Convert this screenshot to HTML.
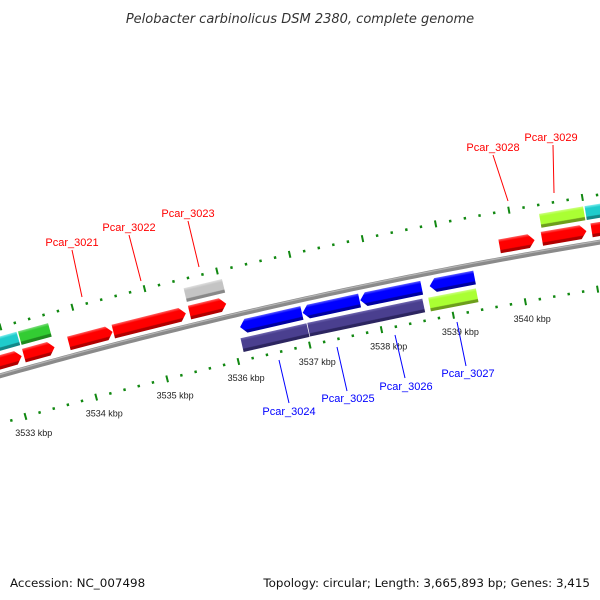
<!DOCTYPE html>
<html><head><meta charset="utf-8"><style>
html,body{margin:0;padding:0;background:#fff;}
svg{display:block;font-family:"Liberation Sans",sans-serif;}
</style></head><body>
<svg id="map" width="600" height="600" viewBox="0 0 600 600">
<defs id="defs"></defs>
<text x="300" y="23" text-anchor="middle" font-size="13" font-style="italic" fill="#333" style="font-family:'DejaVu Sans',sans-serif">Pelobacter carbinolicus DSM 2380, complete genome</text>
<g id="backbone-g"></g>
<g id="ticks-g"></g>
<g id="genes-g"></g>
<g id="labels-g"></g>
<text x="10" y="587" font-size="11.9" fill="#111" style="font-family:'DejaVu Sans',sans-serif">Accession: NC_007498</text>
<text x="590" y="587" font-size="11.9" fill="#111" text-anchor="end" style="font-family:'DejaVu Sans',sans-serif">Topology: circular; Length: 3,665,893 bp; Genes: 3,415</text>
</svg>
<script>
// ---- data ----
const geneStart = [3532.5,3533.20,3533.83,3534.45,3535.51,3539.79,3540.37,3541.05, 3532.5,3533.21,3535.51,3540.39,3541.01, 3536.13,3537.00,3537.80,3538.76, 3536.10,3537.03,3538.71];
const geneEnd   = [3533.17,3533.63,3534.44,3535.46,3536.02,3540.27,3540.98,3541.7, 3533.19,3533.63,3536.04,3540.99,3541.7, 3536.99,3537.79,3538.65,3539.38, 3537.02,3538.63,3539.37];
const geneRow   = [-1,-1,-1,-1,-1,-1,-1,-1, -2,-2,-2,-2,-2, 1,1,1,1, 2,2,2];
const geneColor = ["red","red","red","red","red","red","red","red","cyan","green","gray","lime","cyan","blue","blue","blue","blue","purple","purple","lime"];
const geneDir   = [1,1,1,1,1,1,1,1, 0,0,0,0,0, -1,-1,-1,-1, 0,0,0];
const tickLabels = [3533,3534,3535,3536,3537,3538,3539,3540];
const labelNames = ["Pcar_3021","Pcar_3022","Pcar_3023","Pcar_3028","Pcar_3029","Pcar_3024","Pcar_3025","Pcar_3026","Pcar_3027"];
const labelColor = ["#f00","#f00","#f00","#f00","#f00","#00f","#00f","#00f","#00f"];
const labelTextXY = [[72,246],[129,231],[188,217],[493,151],[551,141],[289,415],[348,402],[406,390],[468,377]];
const labelLine = [[72,250,82,297],[129,235,141,281],[188,221,199,267],[493,155,508,201],[553,145,554,193],[279,360,289,403],[337,347,347,391],[395,335,405,378],[457,322,466,366]];

// ---- geometry ----
const CX=1494, CY=5669, R=5500, KB0=3537, A0=-102.54*Math.PI/180, DA=0.01344;
function ang(kb){return A0+(kb-KB0)*DA;}
function pt(kb,v){const a=ang(kb),r=R-v;return [CX+r*Math.cos(a),CY+r*Math.sin(a)];}
const NS='http://www.w3.org/2000/svg';
function mk(tag,attrs,parent){const e=document.createElementNS(NS,tag);for(const k in attrs)e.setAttribute(k,attrs[k]);parent.appendChild(e);return e;}

const palette={red:["#ff6060","#ff0000","#b00000"],blue:["#5a5aff","#0000ff","#0000a0"],purple:["#6f66b0","#4a3f8f","#2c2560"],lime:["#ccff80","#aaff33","#6d9e1c"],cyan:["#80eeee","#1fcccc","#128888"],green:["#80dd80","#33cc33","#1f8a1f"],gray:["#e0e0e0","#c4c4c4","#888888"]};
const defs=document.getElementById('defs');
for(const c in palette){
  const g=mk('linearGradient',{id:'g-'+c,x1:0,y1:0,x2:0,y2:1},defs);
  const p=palette[c];
  [[0,p[0]],[0.2,p[1]],[0.74,p[1]],[0.8,p[2]],[1,p[2]]].forEach(s=>mk('stop',{offset:s[0],'stop-color':s[1]},g));
}

// backbone
const bb=document.getElementById('backbone-g');
let d1='',d2='';
for(let kb=3532.3;kb<=3541.8;kb+=0.1){const p=pt(kb,0),q=pt(kb,-1.3);d1+=(d1?'L':'M')+p[0].toFixed(2)+' '+p[1].toFixed(2);d2+=(d2?'L':'M')+q[0].toFixed(2)+' '+q[1].toFixed(2);}
const bl=mk('path',{d:d1,stroke:'#8a8a8a','stroke-width':5,fill:'none'},bb);


const bh=mk('path',{d:d2,stroke:'#b4b4b4','stroke-width':1.2,fill:'none'},bb);



// ticks (minor every 0.2 kb, major every 1 kb)
const tg=document.getElementById('ticks-g');
const tracks=[46,-47];
tracks.forEach(v=>{
  for(let i=17662;i<=17709;i++){
    const kb=i/5;
    const major=i%5===0;
    const a=pt(kb,v-(major?3.5:1.3)),b=pt(kb,v+(major?3.5:1.3));
    const l=mk('line',{x1:a[0].toFixed(2),y1:a[1].toFixed(2),x2:b[0].toFixed(2),y2:b[1].toFixed(2),stroke:'#118811','stroke-width':major?2:2.4},tg);
    
    
  }
});
tickLabels.forEach(kb=>{
  const p=pt(kb+0.05,64);
  const t=mk('text',{x:p[0].toFixed(1),y:(p[1]+3).toFixed(1),'font-size':9,fill:'#222','text-anchor':'middle'},tg);
  t.textContent=kb+' kbp';
  
  
});

// genes
const gg=document.getElementById('genes-g');
const rowV={'-1':-13,'-2':-31,'1':13,'2':31};
const H=14;
for(let i=0;i<geneStart.length;i++){
  const v=rowV[geneRow[i]];
  const mid=(geneStart[i]+geneEnd[i])/2;
  const c=pt(mid,v);
  const rot=ang(mid)*180/Math.PI+90;
  const L=(geneEnd[i]-geneStart[i])*DA*(R-v);
  const h=H/2, ah=Math.min(6,L/2), x0=-L/2, x1=L/2;
  let pts;
  if(geneDir[i]===1) pts=[[x0,-h],[x1-ah,-h],[x1,0],[x1-ah,h],[x0,h]];
  else if(geneDir[i]===-1) pts=[[x0,0],[x0+ah,-h],[x1,-h],[x1,h],[x0+ah,h]];
  else pts=[[x0,-h],[x1,-h],[x1,h],[x0,h]];
  const g=mk('g',{transform:'translate('+c[0].toFixed(2)+' '+c[1].toFixed(2)+') rotate('+rot.toFixed(3)+')'},gg);
  
  
  mk('polygon',{points:pts.map(p=>p[0].toFixed(2)+','+p[1].toFixed(2)).join(' '),fill:'url(#g-'+geneColor[i]+')'},g);
}

// labels
const lg=document.getElementById('labels-g');
labelNames.forEach((n,i)=>{
  const l=labelLine[i];
  const ln=mk('line',{x1:l[0],y1:l[1],x2:l[2],y2:l[3],stroke:labelColor[i],'stroke-width':1},lg);
  
  
  const t=mk('text',{x:labelTextXY[i][0],y:labelTextXY[i][1],'font-size':11,fill:labelColor[i],'text-anchor':'middle'},lg);
  t.textContent=n;
  
  
});
</script>
</body></html>
